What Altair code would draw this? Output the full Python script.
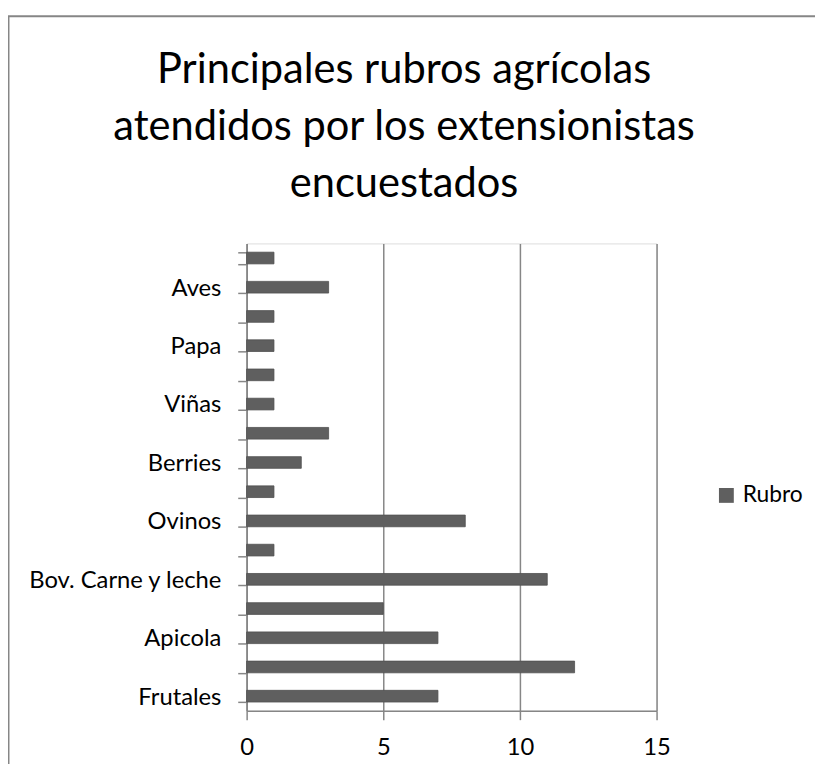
import altair as alt
import pandas as pd

# categories listed from top to bottom as drawn
categories = [
    "Otro rubro 1", "Aves", "Otro rubro 2", "Papa", "Otro rubro 3", "Viñas",
    "Otro rubro 4", "Berries", "Otro rubro 5", "Ovinos", "Otro rubro 6",
    "Bov. Carne y leche", "Otro rubro 7", "Apicola", "Otro rubro 8", "Frutales",
]
values = [1, 3, 1, 1, 1, 1, 3, 2, 1, 8, 1, 11, 5, 7, 12, 7]
shown_labels = ["Aves", "Papa", "Viñas", "Berries", "Ovinos",
                "Bov. Carne y leche", "Apicola", "Frutales"]
series_name = "Rubro"
x_ticks = [0, 5, 10, 15]
title_lines = ["Principales rubros agrícolas",
               "atendidos por los extensionistas",
               "encuestados"]

df = pd.DataFrame({"rubro": categories, "valor": values,
                   "serie": [series_name] * len(categories)})

FONT = "Lato"
GRAY = "#868686"
BAR = "#5f5f5f"

label_expr = "indexof(" + str(shown_labels).replace("'", '"') + ", datum.value) >= 0 ? datum.value : ''"

bars = alt.Chart(df).mark_bar(color=BAR, stroke="#505050", strokeWidth=0.8).encode(
    y=alt.Y("rubro:N", sort=categories, title=None,
            scale=alt.Scale(paddingInner=0.6, paddingOuter=0.3),
            axis=alt.Axis(tickBand="extent", labelExpr=label_expr, tickSize=9,
                          labelPadding=17, labelFontSize=24, labelFont=FONT,
                          labelLimit=400, labelBaseline="middle", labelOffset=1,
                          labelColor="#000000", domainColor=GRAY, tickColor=GRAY,
                          domainWidth=1.5, tickWidth=1.5, grid=False)),
    x=alt.X("valor:Q", title=None,
            scale=alt.Scale(domain=[0, 15], nice=False),
            axis=alt.Axis(values=x_ticks, tickSize=9, labelPadding=16,
                          labelFontSize=24, labelFont=FONT, labelColor="#000000",
                          domainColor=GRAY, tickColor=GRAY, domainWidth=1.5,
                          tickWidth=1.5, gridColor=GRAY, gridWidth=1.5,
                          labelFlush=False)),
    color=alt.Color("serie:N", title=None,
                    scale=alt.Scale(range=[BAR]),
                    legend=alt.Legend(orient="none", legendX=473, legendY=243,
                                      symbolType="square", symbolSize=225,
                                      symbolStrokeWidth=0, symbolFillColor=BAR,
                                      labelFont=FONT, labelFontSize=23,
                                      labelColor="#000000", labelOffset=5)),
)

frame = pd.DataFrame({"k": [0]})
left_border = alt.Chart(frame).mark_rule(color=GRAY, strokeWidth=2).encode(
    x=alt.value(-240.5), y=alt.value(-229.5), y2=alt.value(600))
top_border = alt.Chart(frame).mark_rule(color=GRAY, strokeWidth=2).encode(
    x=alt.value(-241), x2=alt.value(600), y=alt.value(-229.5))

chart = alt.layer(bars, left_border, top_border).properties(
    width=414, height=472,
    padding={"left": 241, "top": 234, "right": 160, "bottom": 50},
    autosize=alt.AutoSizeParams(type="none"),
    title=alt.TitleParams(text=title_lines, anchor="middle", frame="group",
                          dx=-48, offset=-193, font=FONT, fontSize=42,
                          fontWeight="normal", color="#000000", lineHeight=58),
).configure_view(stroke=None).configure(background="white")

chart.save("out.html", embed_options={"renderer": "svg", "actions": False})
